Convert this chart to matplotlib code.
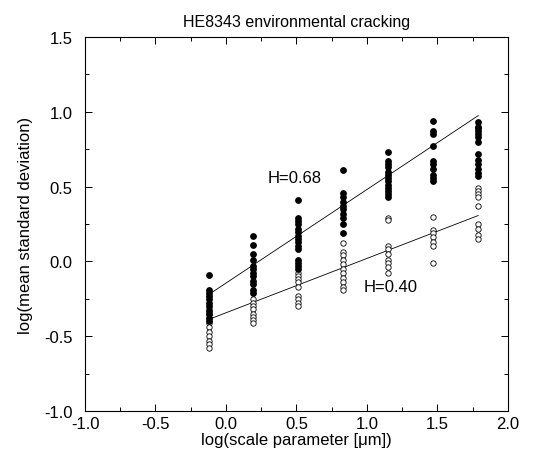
import numpy as np
import matplotlib.pyplot as plt
from matplotlib.ticker import MultipleLocator, FormatStrFormatter

plt.rcParams['font.family'] = ['Liberation Sans', 'DejaVu Sans']

# positions of the columns (as drawn on the axis)
cols = [-0.12, 0.19, 0.51, 0.83, 1.15, 1.47, 1.79]

# filled circles (H=0.68 set)
filled = [
    [-0.09, -0.19, -0.21, -0.23, -0.25, -0.28, -0.30, -0.33, -0.35, -0.38, -0.40],
    [0.17, 0.11, 0.05, 0.01, -0.03, -0.05, -0.08, -0.10, -0.13, -0.15, -0.19, -0.21],
    [0.41, 0.29, 0.27, 0.25, 0.22, 0.20, 0.17, 0.15, 0.13, 0.10, 0.08, 0.01, -0.01, -0.03, -0.05],
    [0.61, 0.46, 0.43, 0.40, 0.37, 0.35, 0.32, 0.29, 0.25, 0.19],
    [0.73, 0.67, 0.65, 0.63, 0.60, 0.58, 0.56, 0.54, 0.51, 0.49, 0.47, 0.45, 0.43],
    [0.94, 0.87, 0.85, 0.77, 0.67, 0.65, 0.62, 0.58, 0.56, 0.54],
    [0.93, 0.90, 0.89, 0.87, 0.85, 0.83, 0.80, 0.72, 0.68, 0.65, 0.62, 0.59, 0.57],
]

# open circles (H=0.40 set)
empty = [
    [-0.32, -0.35, -0.38, -0.41, -0.44, -0.47, -0.50, -0.53, -0.55, -0.58],
    [-0.25, -0.28, -0.30, -0.32, -0.35, -0.37, -0.39, -0.41],
    [-0.08, -0.10, -0.12, -0.14, -0.17, -0.23, -0.25, -0.28, -0.30],
    [0.12, 0.06, 0.04, 0.01, -0.02, -0.05, -0.08, -0.11, -0.14, -0.17, -0.19],
    [0.29, 0.28, 0.10, 0.08, 0.05, 0.01, -0.01, -0.04, -0.08],
    [0.30, 0.21, 0.19, 0.16, 0.13, 0.10, -0.01],
    [0.49, 0.47, 0.45, 0.43, 0.37, 0.25, 0.22, 0.18, 0.15],
]

# fitted lines (end points)
fit_x = [-0.12, 1.79]
fit_filled = [-0.22, 0.975]
fit_empty = [-0.387, 0.307]

fig = plt.figure(figsize=(5.52, 4.56), dpi=100)
ax = fig.add_axes([0.154, 0.0965, 0.766, 0.82])

for x, ys in zip(cols, empty):
    ax.scatter([x] * len(ys), ys, s=15, facecolors='white', edgecolors='black', linewidths=0.6, zorder=3)
for x, ys in zip(cols, filled):
    ax.scatter([x] * len(ys), ys, s=15, color='black', zorder=3)

ax.plot(fit_x, fit_filled, color='black', lw=0.6)
ax.plot(fit_x, fit_empty, color='black', lw=0.6)

ax.text(0.49, 0.56, 'H=0.68', fontsize=12, ha='center', va='center')
ax.text(1.17, -0.17, 'H=0.40', fontsize=12, ha='center', va='center')

ax.set_xlim(-1.0, 2.0)
ax.set_ylim(-1.0, 1.5)
ax.xaxis.set_major_locator(MultipleLocator(0.5))
ax.xaxis.set_minor_locator(MultipleLocator(0.25))
ax.yaxis.set_major_locator(MultipleLocator(0.5))
ax.yaxis.set_minor_locator(MultipleLocator(0.25))
ax.xaxis.set_major_formatter(FormatStrFormatter('%.1f'))
ax.yaxis.set_major_formatter(FormatStrFormatter('%.1f'))
ax.tick_params(which='both', direction='in', top=True, right=True, labelsize=12)
ax.tick_params(which='major', length=5, width=0.7)
ax.tick_params(which='minor', length=3, width=0.7)
ax.tick_params(axis='y', which='major', pad=9)
for s in ax.spines.values():
    s.set_linewidth(0.8)

ax.set_title('HE8343 environmental cracking', fontsize=11.5, pad=8)
ax.set_xlabel('log(scale parameter [\u03bcm])', fontsize=12, labelpad=1)
ax.set_ylabel('log(mean standard deviation)', fontsize=12, labelpad=8)

fig.savefig('out.png', dpi=100)
